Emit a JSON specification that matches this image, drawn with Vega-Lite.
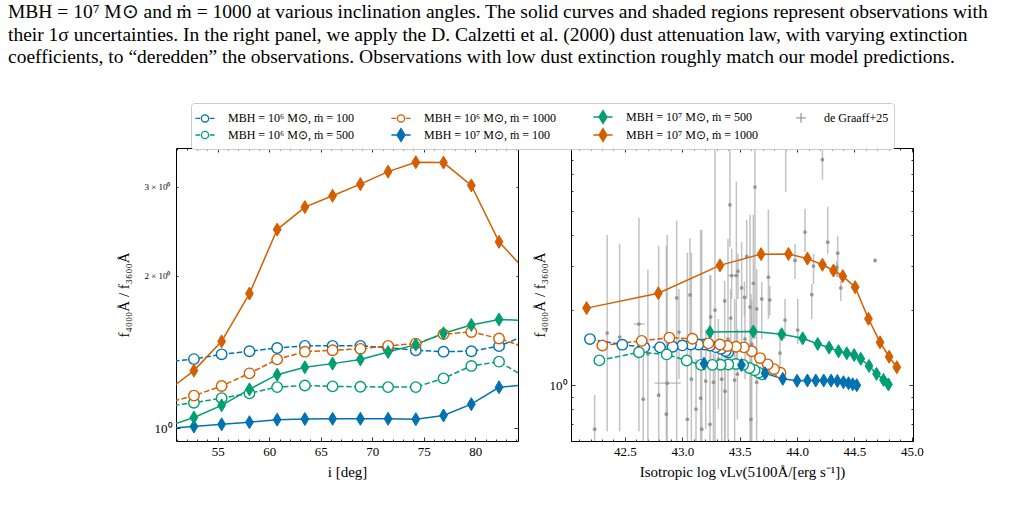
{
  "$schema": "https://vega.github.io/schema/vega-lite/v6.json",
  "padding": {"left": 8, "top": 2, "right": 4, "bottom": 4},
  "background": "white",
  "title": {
    "text": [
      "MBH = 10⁷ M⊙ and ṁ = 1000 at various inclination angles. The solid curves and shaded regions represent observations with",
      "their 1σ uncertainties. In the right panel, we apply the D. Calzetti et al. (2000) dust attenuation law, with varying extinction",
      "coefficients, to “deredden” the observations. Observations with low dust extinction roughly match our model predictions."
    ],
    "anchor": "start", "frame": "group", "dx": -168, "offset": 35,
    "font": "Liberation Serif", "fontSize": 19.5, "fontWeight": "normal", "lineHeight": 22.5, "color": "black"
  },
  "config": {
    "font": "Liberation Serif",
    "view": {"stroke": "black", "strokeWidth": 1},
    "axis": {"grid": false, "domain": false, "labelFont": "Liberation Serif", "titleFont": "Liberation Serif",
             "labelFontSize": 13, "titleFontSize": 15, "labelColor": "black", "titleColor": "black",
             "tickColor": "black", "tickWidth": 0.8, "titleFontWeight": "normal", "labelOverlap": false, "labelFlush": false}
  },
  "datasets": {
    "models": [
      {"s": "MBH = 10⁶ M⊙, ṁ = 100", "i": 50, "L": 43.4, "r": 1.352},
      {"s": "MBH = 10⁶ M⊙, ṁ = 100", "i": 52.69, "L": 43.378, "r": 1.37},
      {"s": "MBH = 10⁶ M⊙, ṁ = 100", "i": 55.38, "L": 43.337, "r": 1.4},
      {"s": "MBH = 10⁶ M⊙, ṁ = 100", "i": 58.08, "L": 43.291, "r": 1.42},
      {"s": "MBH = 10⁶ M⊙, ṁ = 100", "i": 60.77, "L": 43.241, "r": 1.441},
      {"s": "MBH = 10⁶ M⊙, ṁ = 100", "i": 63.46, "L": 43.192, "r": 1.455},
      {"s": "MBH = 10⁶ M⊙, ṁ = 100", "i": 66.15, "L": 43.14, "r": 1.455},
      {"s": "MBH = 10⁶ M⊙, ṁ = 100", "i": 68.85, "L": 43.075, "r": 1.455},
      {"s": "MBH = 10⁶ M⊙, ṁ = 100", "i": 71.54, "L": 43.0, "r": 1.443},
      {"s": "MBH = 10⁶ M⊙, ṁ = 100", "i": 74.23, "L": 42.916, "r": 1.426},
      {"s": "MBH = 10⁶ M⊙, ṁ = 100", "i": 76.92, "L": 42.805, "r": 1.417},
      {"s": "MBH = 10⁶ M⊙, ṁ = 100", "i": 79.62, "L": 42.669, "r": 1.42},
      {"s": "MBH = 10⁶ M⊙, ṁ = 100", "i": 82.31, "L": 42.477, "r": 1.453},
      {"s": "MBH = 10⁶ M⊙, ṁ = 100", "i": 85, "L": 42.195, "r": 1.53},
      {"s": "MBH = 10⁶ M⊙, ṁ = 500", "i": 50, "L": 43.695, "r": 1.105},
      {"s": "MBH = 10⁶ M⊙, ṁ = 500", "i": 52.69, "L": 43.665, "r": 1.123},
      {"s": "MBH = 10⁶ M⊙, ṁ = 500", "i": 55.38, "L": 43.63, "r": 1.147},
      {"s": "MBH = 10⁶ M⊙, ṁ = 500", "i": 58.08, "L": 43.585, "r": 1.172},
      {"s": "MBH = 10⁶ M⊙, ṁ = 500", "i": 60.77, "L": 43.53, "r": 1.206},
      {"s": "MBH = 10⁶ M⊙, ṁ = 500", "i": 63.46, "L": 43.465, "r": 1.215},
      {"s": "MBH = 10⁶ M⊙, ṁ = 500", "i": 66.15, "L": 43.401, "r": 1.21},
      {"s": "MBH = 10⁶ M⊙, ṁ = 500", "i": 68.85, "L": 43.334, "r": 1.208},
      {"s": "MBH = 10⁶ M⊙, ṁ = 500", "i": 71.54, "L": 43.262, "r": 1.206},
      {"s": "MBH = 10⁶ M⊙, ṁ = 500", "i": 74.23, "L": 43.163, "r": 1.206},
      {"s": "MBH = 10⁶ M⊙, ṁ = 500", "i": 76.92, "L": 43.038, "r": 1.255},
      {"s": "MBH = 10⁶ M⊙, ṁ = 500", "i": 79.62, "L": 42.864, "r": 1.328},
      {"s": "MBH = 10⁶ M⊙, ṁ = 500", "i": 82.31, "L": 42.622, "r": 1.354},
      {"s": "MBH = 10⁶ M⊙, ṁ = 500", "i": 85, "L": 42.277, "r": 1.257},
      {"s": "MBH = 10⁶ M⊙, ṁ = 1000", "i": 50, "L": 43.855, "r": 1.122},
      {"s": "MBH = 10⁶ M⊙, ṁ = 1000", "i": 52.69, "L": 43.799, "r": 1.16},
      {"s": "MBH = 10⁶ M⊙, ṁ = 1000", "i": 55.38, "L": 43.744, "r": 1.212},
      {"s": "MBH = 10⁶ M⊙, ṁ = 1000", "i": 58.08, "L": 43.677, "r": 1.284},
      {"s": "MBH = 10⁶ M⊙, ṁ = 1000", "i": 60.77, "L": 43.605, "r": 1.368},
      {"s": "MBH = 10⁶ M⊙, ṁ = 1000", "i": 63.46, "L": 43.537, "r": 1.417},
      {"s": "MBH = 10⁶ M⊙, ṁ = 1000", "i": 66.15, "L": 43.468, "r": 1.426},
      {"s": "MBH = 10⁶ M⊙, ṁ = 1000", "i": 68.85, "L": 43.393, "r": 1.435},
      {"s": "MBH = 10⁶ M⊙, ṁ = 1000", "i": 71.54, "L": 43.328, "r": 1.455},
      {"s": "MBH = 10⁶ M⊙, ṁ = 1000", "i": 74.23, "L": 43.227, "r": 1.47},
      {"s": "MBH = 10⁶ M⊙, ṁ = 1000", "i": 76.92, "L": 43.088, "r": 1.535},
      {"s": "MBH = 10⁶ M⊙, ṁ = 1000", "i": 79.62, "L": 42.887, "r": 1.55},
      {"s": "MBH = 10⁶ M⊙, ṁ = 1000", "i": 82.31, "L": 42.646, "r": 1.505},
      {"s": "MBH = 10⁶ M⊙, ṁ = 1000", "i": 85, "L": 42.303, "r": 1.442},
      {"s": "MBH = 10⁷ M⊙, ṁ = 100", "i": 50, "L": 44.52, "r": 1.0},
      {"s": "MBH = 10⁷ M⊙, ṁ = 100", "i": 52.69, "L": 44.485, "r": 1.008},
      {"s": "MBH = 10⁷ M⊙, ṁ = 100", "i": 55.38, "L": 44.448, "r": 1.018},
      {"s": "MBH = 10⁷ M⊙, ṁ = 100", "i": 58.08, "L": 44.404, "r": 1.028},
      {"s": "MBH = 10⁷ M⊙, ṁ = 100", "i": 60.77, "L": 44.351, "r": 1.04},
      {"s": "MBH = 10⁷ M⊙, ṁ = 100", "i": 63.46, "L": 44.296, "r": 1.043},
      {"s": "MBH = 10⁷ M⊙, ṁ = 100", "i": 66.15, "L": 44.232, "r": 1.044},
      {"s": "MBH = 10⁷ M⊙, ṁ = 100", "i": 68.85, "L": 44.163, "r": 1.044},
      {"s": "MBH = 10⁷ M⊙, ṁ = 100", "i": 71.54, "L": 44.09, "r": 1.044},
      {"s": "MBH = 10⁷ M⊙, ṁ = 100", "i": 74.23, "L": 44.0, "r": 1.042},
      {"s": "MBH = 10⁷ M⊙, ṁ = 100", "i": 76.92, "L": 43.875, "r": 1.06},
      {"s": "MBH = 10⁷ M⊙, ṁ = 100", "i": 79.62, "L": 43.721, "r": 1.116},
      {"s": "MBH = 10⁷ M⊙, ṁ = 100", "i": 82.31, "L": 43.515, "r": 1.205},
      {"s": "MBH = 10⁷ M⊙, ṁ = 100", "i": 85, "L": 43.189, "r": 1.22},
      {"s": "MBH = 10⁷ M⊙, ṁ = 500", "i": 50, "L": 44.796, "r": 1.007},
      {"s": "MBH = 10⁷ M⊙, ṁ = 500", "i": 52.69, "L": 44.753, "r": 1.05},
      {"s": "MBH = 10⁷ M⊙, ṁ = 500", "i": 55.38, "L": 44.692, "r": 1.11},
      {"s": "MBH = 10⁷ M⊙, ṁ = 500", "i": 58.08, "L": 44.627, "r": 1.194},
      {"s": "MBH = 10⁷ M⊙, ṁ = 500", "i": 60.77, "L": 44.555, "r": 1.276},
      {"s": "MBH = 10⁷ M⊙, ṁ = 500", "i": 63.46, "L": 44.497, "r": 1.32},
      {"s": "MBH = 10⁷ M⊙, ṁ = 500", "i": 66.15, "L": 44.433, "r": 1.342},
      {"s": "MBH = 10⁷ M⊙, ṁ = 500", "i": 68.85, "L": 44.361, "r": 1.368},
      {"s": "MBH = 10⁷ M⊙, ṁ = 500", "i": 71.54, "L": 44.279, "r": 1.415},
      {"s": "MBH = 10⁷ M⊙, ṁ = 500", "i": 74.23, "L": 44.18, "r": 1.463},
      {"s": "MBH = 10⁷ M⊙, ṁ = 500", "i": 76.92, "L": 44.049, "r": 1.541},
      {"s": "MBH = 10⁷ M⊙, ṁ = 500", "i": 79.62, "L": 43.866, "r": 1.6},
      {"s": "MBH = 10⁷ M⊙, ṁ = 500", "i": 82.31, "L": 43.619, "r": 1.641},
      {"s": "MBH = 10⁷ M⊙, ṁ = 500", "i": 85, "L": 43.241, "r": 1.632},
      {"s": "MBH = 10⁷ M⊙, ṁ = 1000", "i": 50, "L": 44.869, "r": 1.18},
      {"s": "MBH = 10⁷ M⊙, ṁ = 1000", "i": 52.69, "L": 44.802, "r": 1.3},
      {"s": "MBH = 10⁷ M⊙, ṁ = 1000", "i": 55.38, "L": 44.723, "r": 1.485},
      {"s": "MBH = 10⁷ M⊙, ṁ = 1000", "i": 58.08, "L": 44.622, "r": 1.846},
      {"s": "MBH = 10⁷ M⊙, ṁ = 1000", "i": 60.77, "L": 44.506, "r": 2.47},
      {"s": "MBH = 10⁷ M⊙, ṁ = 1000", "i": 63.46, "L": 44.398, "r": 2.736},
      {"s": "MBH = 10⁷ M⊙, ṁ = 1000", "i": 66.15, "L": 44.317, "r": 2.88},
      {"s": "MBH = 10⁷ M⊙, ṁ = 1000", "i": 68.85, "L": 44.221, "r": 3.037},
      {"s": "MBH = 10⁷ M⊙, ṁ = 1000", "i": 71.54, "L": 44.09, "r": 3.215},
      {"s": "MBH = 10⁷ M⊙, ṁ = 1000", "i": 74.23, "L": 43.925, "r": 3.356},
      {"s": "MBH = 10⁷ M⊙, ṁ = 1000", "i": 76.92, "L": 43.686, "r": 3.35},
      {"s": "MBH = 10⁷ M⊙, ṁ = 1000", "i": 79.62, "L": 43.328, "r": 3.02},
      {"s": "MBH = 10⁷ M⊙, ṁ = 1000", "i": 82.31, "L": 42.791, "r": 2.336},
      {"s": "MBH = 10⁷ M⊙, ṁ = 1000", "i": 85, "L": 42.166, "r": 2.036}
    ],
    "obs": [
      {"L": 42.236, "r": 0.666, "lo": 0.46, "hi": 0.912},
      {"L": 42.345, "r": 1.618, "lo": 0.654, "hi": 4.0},
      {"L": 42.454, "r": 1.559, "lo": 0.654, "hi": 3.68},
      {"L": 42.622, "r": 1.758, "lo": 0.654, "hi": 4.69, "Llo": 42.578, "Lhi": 42.672},
      {"L": 42.7, "r": 1.332, "lo": 0.58, "hi": 2.9},
      {"L": 42.659, "r": 0.879, "lo": 0.58, "hi": 1.395},
      {"L": 42.794, "r": 0.912, "lo": 0.58, "hi": 3.62},
      {"L": 42.868, "r": 1.019, "lo": 0.58, "hi": 4.0, "Llo": 42.759, "Lhi": 42.986},
      {"L": 42.951, "r": 2.236, "lo": 0.596, "hi": 4.56},
      {"L": 42.971, "r": 1.633, "lo": 1.057, "hi": 2.43},
      {"L": 43.067, "r": 2.298, "lo": 1.272, "hi": 3.89},
      {"L": 43.079, "r": 1.057, "lo": 0.58, "hi": 3.39},
      {"L": 43.119, "r": 0.801, "lo": 0.58, "hi": 1.272},
      {"L": 43.16, "r": 0.887, "lo": 0.58, "hi": 4.19},
      {"L": 43.204, "r": 1.038, "lo": 0.666, "hi": 1.677},
      {"L": 43.247, "r": 1.876, "lo": 1.16, "hi": 2.765},
      {"L": 43.285, "r": 2.0, "lo": 0.58, "hi": 14},
      {"L": 43.369, "r": 2.175, "lo": 0.58, "hi": 2.617},
      {"L": 43.398, "r": 1.53, "lo": 0.607, "hi": 3.86},
      {"L": 43.415, "r": 5.28, "lo": 3.58, "hi": 14},
      {"L": 43.43, "r": 2.748, "lo": 2.215, "hi": 3.52, "Llo": 43.398, "Lhi": 43.468},
      {"L": 43.471, "r": 2.748, "lo": 1.16, "hi": 6.54},
      {"L": 43.485, "r": 2.862, "lo": 2.215, "hi": 3.36},
      {"L": 43.517, "r": 2.453, "lo": 1.395, "hi": 3.75},
      {"L": 43.422, "r": 1.858, "lo": 1.395, "hi": 2.43},
      {"L": 43.456, "r": 1.047, "lo": 0.58, "hi": 2.215},
      {"L": 43.48, "r": 1.107, "lo": 0.73, "hi": 1.677},
      {"L": 43.314, "r": 1.272, "lo": 0.801, "hi": 1.84},
      {"L": 43.343, "r": 1.057, "lo": 0.58, "hi": 1.53},
      {"L": 43.271, "r": 1.028, "lo": 0.58, "hi": 1.332},
      {"L": 43.372, "r": 0.946, "lo": 0.58, "hi": 1.272},
      {"L": 43.546, "r": 1.53, "lo": 1.057, "hi": 2.215},
      {"L": 43.59, "r": 2.057, "lo": 0.58, "hi": 4.82},
      {"L": 43.633, "r": 6.22, "lo": 1.53, "hi": 14},
      {"L": 43.561, "r": 3.28, "lo": 2.215, "hi": 4.6},
      {"L": 43.619, "r": 2.561, "lo": 1.53, "hi": 4.82},
      {"L": 43.75, "r": 2.707, "lo": 1.84, "hi": 5.05},
      {"L": 43.901, "r": 9.6, "lo": 5.94, "hi": 20},
      {"L": 43.982, "r": 3.16, "lo": 2.666, "hi": 3.68},
      {"L": 44.069, "r": 4.105, "lo": 3.42, "hi": 5.09},
      {"L": 44.128, "r": 2.305, "lo": 1.84, "hi": 2.544},
      {"L": 44.143, "r": 3.0, "lo": 2.544, "hi": 3.36},
      {"L": 44.221, "r": 8.01, "lo": 6.66, "hi": 8.87},
      {"L": 44.267, "r": 3.74, "lo": 3.36, "hi": 5.19},
      {"L": 44.354, "r": 3.38, "lo": 2.716, "hi": 3.97},
      {"L": 44.346, "r": 2.97, "lo": 2.716, "hi": 3.14},
      {"L": 44.381, "r": 2.453, "lo": 2.175, "hi": 2.617},
      {"L": 44.68, "r": 3.16, "lo": 3.1, "hi": 3.22},
      {"L": 43.895, "r": 1.824, "lo": 1.53, "hi": 2.215},
      {"L": 43.851, "r": 1.344, "lo": 1.107, "hi": 1.677},
      {"L": 44.006, "r": 1.663, "lo": 1.46, "hi": 2.215},
      {"L": 43.648, "r": 2.02, "lo": 1.395, "hi": 2.92},
      {"L": 43.605, "r": 1.46, "lo": 0.58, "hi": 2.215},
      {"L": 43.648, "r": 1.028, "lo": 0.58, "hi": 1.272},
      {"L": 43.598, "r": 0.73, "lo": 0.46, "hi": 2.32},
      {"L": 43.044, "r": 0.73, "lo": 0.46, "hi": 3.39},
      {"L": 43.169, "r": 0.666, "lo": 0.46, "hi": 4.19},
      {"L": 42.861, "r": 0.765, "lo": 0.46, "hi": 3.62},
      {"L": 43.241, "r": 0.697, "lo": 0.46, "hi": 2.765},
      {"L": 43.692, "r": 2.215, "lo": 1.53, "hi": 2.59},
      {"L": 43.762, "r": 2.195, "lo": 1.9, "hi": 2.5},
      {"L": 43.541, "r": 2.248, "lo": 1.9, "hi": 2.6}
    ]
  },
  "spacing": 1,
  "resolve": {"scale": {"x": "independent", "y": "independent", "stroke": "shared", "fill": "shared", "shape": "shared"}},
  "hconcat": [
    {
      "width": 342, "height": 293,
      "resolve": {"axis": {"x": "independent", "y": "independent"}},
      "layer": [
        {
          "data": {"name": "models"},
          "transform": [{"filter": {"field": "s", "oneOf": ["MBH = 10⁶ M⊙, ṁ = 100", "MBH = 10⁶ M⊙, ṁ = 500", "MBH = 10⁶ M⊙, ṁ = 1000"]}}],
          "mark": {"type": "line", "strokeWidth": 1.5, "strokeDash": [5.5, 2.4], "clip": true},
          "encoding": {
            "x": {"field": "i", "type": "quantitative", "scale": {"domain": [50.95, 84.15], "nice": false, "zero": false},
                  "axis": {"orient": "bottom", "title": "i [deg]", "values": [51,52,53,54,55,56,57,58,59,60,61,62,63,64,65,66,67,68,69,70,71,72,73,74,75,76,77,78,79,80,81,82,83,84],
                           "labelExpr": "datum.value % 5 === 0 ? datum.label : ''", "format": "d",
                           "tickSize": {"condition": {"test": "datum.value % 5 === 0", "value": -4}, "value": -2},
                           "labelPadding": 8, "titlePadding": 4}},
            "y": {"field": "r", "type": "quantitative", "scale": {"type": "log", "domain": [0.9437, 3.58], "nice": false},
                  "axis": {"orient": "left", "title": "f₄₀₀₀Å / f₃₆₀₀Å", "values": [1, 2, 3],
                           "labelExpr": "datum.value === 1 ? '10⁰' : datum.value + ' × 10⁰'",
                           "labelFontSize": {"condition": {"test": "datum.value === 1", "value": 13}, "value": 9},
                           "tickSize": {"condition": {"test": "datum.value === 1", "value": -4}, "value": -2},
                           "labelPadding": 8, "titlePadding": 12}},
            "stroke": {"field": "s", "type": "nominal",
                       "scale": {"domain": ["MBH = 10⁶ M⊙, ṁ = 100", "MBH = 10⁶ M⊙, ṁ = 1000", "MBH = 10⁷ M⊙, ṁ = 500", "de Graaff+25", "MBH = 10⁶ M⊙, ṁ = 500", "MBH = 10⁷ M⊙, ṁ = 100", "MBH = 10⁷ M⊙, ṁ = 1000"],
                                 "range": ["#0072B2", "#D55E00", "#009E73", "#999999", "#009E73", "#0072B2", "#D55E00"]},
                       "legend": {"orient": "none", "legendX": 15, "legendY": -45, "columns": 4, "title": null, "direction": "horizontal",
                                  "labelFont": "Liberation Serif", "labelFontSize": 12, "labelLimit": 300, "labelColor": "black",
                                  "symbolSize": 256, "symbolStrokeWidth": 1.3, "symbolOpacity": 1, "labelOffset": 14, "columnPadding": 33, "rowPadding": 0,
                                  "strokeColor": "#cccccc", "fillColor": "white", "padding": 5, "cornerRadius": 3}}
          }
        },
        {
          "data": {"name": "models"},
          "transform": [{"filter": {"field": "s", "oneOf": ["MBH = 10⁷ M⊙, ṁ = 100", "MBH = 10⁷ M⊙, ṁ = 500", "MBH = 10⁷ M⊙, ṁ = 1000"]}}],
          "mark": {"type": "line", "strokeWidth": 1.5, "clip": true},
          "encoding": {
            "x": {"field": "i", "type": "quantitative", "scale": {"domain": [50.95, 84.15], "nice": false, "zero": false}, "axis": null},
            "y": {"field": "r", "type": "quantitative", "scale": {"type": "log", "domain": [0.9437, 3.58], "nice": false}, "axis": null},
            "stroke": {"field": "s", "type": "nominal"}
          }
        },
        {
          "data": {"name": "models"},
          "transform": [{"filter": {"field": "s", "oneOf": ["MBH = 10⁶ M⊙, ṁ = 100", "MBH = 10⁶ M⊙, ṁ = 500", "MBH = 10⁶ M⊙, ṁ = 1000"]}}],
          "mark": {"type": "point", "shape": "circle", "size": 110, "strokeWidth": 1.4, "opacity": 1, "clip": true},
          "encoding": {
            "x": {"field": "i", "type": "quantitative", "scale": {"domain": [50.95, 84.15], "nice": false, "zero": false}, "axis": null},
            "y": {"field": "r", "type": "quantitative", "scale": {"type": "log", "domain": [0.9437, 3.58], "nice": false}, "axis": null},
            "stroke": {"field": "s", "type": "nominal"},
            "fill": {"field": "s", "type": "nominal", "legend": null,
                     "scale": {"domain": ["MBH = 10⁶ M⊙, ṁ = 100", "MBH = 10⁶ M⊙, ṁ = 1000", "MBH = 10⁷ M⊙, ṁ = 500", "de Graaff+25", "MBH = 10⁶ M⊙, ṁ = 500", "MBH = 10⁷ M⊙, ṁ = 100", "MBH = 10⁷ M⊙, ṁ = 1000"],
                               "range": ["white", "white", "#009E73", "transparent", "white", "#0072B2", "#D55E00"]}}
          }
        },
        {
          "data": {"name": "models"},
          "transform": [{"filter": {"field": "s", "oneOf": ["MBH = 10⁷ M⊙, ṁ = 100", "MBH = 10⁷ M⊙, ṁ = 500", "MBH = 10⁷ M⊙, ṁ = 1000"]}}],
          "mark": {"type": "point", "shape": "M0,-1L0.6,0L0,1L-0.6,0Z", "size": 169, "strokeWidth": 1, "opacity": 1, "clip": true},
          "encoding": {
            "x": {"field": "i", "type": "quantitative", "scale": {"domain": [50.95, 84.15], "nice": false, "zero": false}, "axis": null},
            "y": {"field": "r", "type": "quantitative", "scale": {"type": "log", "domain": [0.9437, 3.58], "nice": false}, "axis": null},
            "stroke": {"field": "s", "type": "nominal"},
            "fill": {"field": "s", "type": "nominal", "legend": null}
          }
        },
        {
          "data": {"name": "models"},
          "mark": {"type": "point", "opacity": 0},
          "encoding": {
            "x": {"field": "i", "type": "quantitative", "scale": {"domain": [50.95, 84.15], "nice": false, "zero": false},
                  "axis": {"orient": "top", "labels": false, "title": null, "values": [51,52,53,54,55,56,57,58,59,60,61,62,63,64,65,66,67,68,69,70,71,72,73,74,75,76,77,78,79,80,81,82,83,84],
                           "tickSize": {"condition": {"test": "datum.value % 5 === 0", "value": -4}, "value": -2}}},
            "y": {"field": "r", "type": "quantitative", "scale": {"type": "log", "domain": [0.9437, 3.58], "nice": false},
                  "axis": {"orient": "right", "labels": false, "title": null, "values": [1, 2, 3],
                           "tickSize": {"condition": {"test": "datum.value === 1", "value": -4}, "value": -2}}}
          }
        },
        {
          "data": {"name": "models"},
          "mark": {"type": "point", "size": 256, "strokeWidth": 1.3, "opacity": 0, "clip": true},
          "encoding": {
            "x": {"field": "i", "type": "quantitative", "scale": {"domain": [50.95, 84.15], "nice": false, "zero": false}, "axis": null},
            "y": {"field": "r", "type": "quantitative", "scale": {"type": "log", "domain": [0.9437, 3.58], "nice": false}, "axis": null},
            "stroke": {"field": "s", "type": "nominal"},
            "fill": {"field": "s", "type": "nominal", "legend": null},
            "shape": {"field": "s", "type": "nominal", "legend": null,
                      "scale": {"domain": ["MBH = 10⁶ M⊙, ṁ = 100", "MBH = 10⁶ M⊙, ṁ = 1000", "MBH = 10⁷ M⊙, ṁ = 500", "de Graaff+25", "MBH = 10⁶ M⊙, ṁ = 500", "MBH = 10⁷ M⊙, ṁ = 100", "MBH = 10⁷ M⊙, ṁ = 1000"],
                                "range": ["M-1.2,0H-0.6M0.6,0H1.2M-0.45,0A0.45,0.45,0,1,1,0.45,0A0.45,0.45,0,1,1,-0.45,0Z",
                                          "M-1.2,0H-0.6M0.6,0H1.2M-0.45,0A0.45,0.45,0,1,1,0.45,0A0.45,0.45,0,1,1,-0.45,0Z",
                                          "M-1.2,0H1.2M0,-0.8L0.5,0L0,0.8L-0.5,0Z",
                                          "M-0.6,0H0.6M0,-0.6V0.6",
                                          "M-1.2,0H-0.6M0.6,0H1.2M-0.45,0A0.45,0.45,0,1,1,0.45,0A0.45,0.45,0,1,1,-0.45,0Z",
                                          "M-1.2,0H1.2M0,-0.8L0.5,0L0,0.8L-0.5,0Z",
                                          "M-1.2,0H1.2M0,-0.8L0.5,0L0,0.8L-0.5,0Z"]}}
          }
        }
      ]
    },
    {
      "width": 342, "height": 293,
      "resolve": {"axis": {"x": "independent", "y": "independent"}},
      "layer": [
        {
          "data": {"name": "obs"},
          "mark": {"type": "rule", "color": "#b3b3b3", "strokeWidth": 1.5, "opacity": 0.8, "clip": true},
          "encoding": {
            "x": {"field": "L", "type": "quantitative", "scale": {"domain": [42.03, 45.01], "nice": false, "zero": false},
                  "axis": {"orient": "bottom", "title": "Isotropic log νLν(5100Å/[erg s⁻¹])",
                           "values": [42.1,42.2,42.3,42.4,42.5,42.6,42.7,42.8,42.9,43.0,43.1,43.2,43.3,43.4,43.5,43.6,43.7,43.8,43.9,44.0,44.1,44.2,44.3,44.4,44.5,44.6,44.7,44.8,44.9,45.0],
                           "labelExpr": "abs(datum.value * 2 - round(datum.value * 2)) < 0.001 ? format(datum.value, '.1f') : ''",
                           "tickSize": {"condition": {"test": "abs(datum.value * 2 - round(datum.value * 2)) < 0.001", "value": -4}, "value": -2},
                           "labelPadding": 8, "titlePadding": 4}},
            "y": {"field": "lo", "type": "quantitative", "scale": {"type": "log", "domain": [0.5974, 8.92], "nice": false},
                  "axis": {"orient": "left", "title": "f₄₀₀₀Å / f₃₆₀₀Å", "values": [0.6, 0.7, 0.8, 0.9, 1, 2, 3, 4, 5, 6, 7, 8],
                           "labelExpr": "datum.value === 1 ? '10⁰' : ''",
                           "tickSize": {"condition": {"test": "datum.value === 1", "value": -4}, "value": -2},
                           "labelPadding": 8, "titlePadding": 2}},
            "y2": {"field": "hi"}
          }
        },
        {
          "data": {"name": "obs"},
          "transform": [{"filter": {"field": "Llo", "valid": true}}],
          "mark": {"type": "rule", "color": "#b3b3b3", "strokeWidth": 1.5, "opacity": 0.8, "clip": true},
          "encoding": {
            "x": {"field": "Llo", "type": "quantitative", "scale": {"domain": [42.03, 45.01], "nice": false, "zero": false}, "axis": null},
            "x2": {"field": "Lhi"},
            "y": {"field": "r", "type": "quantitative", "scale": {"type": "log", "domain": [0.5974, 8.92], "nice": false}, "axis": null}
          }
        },
        {
          "data": {"name": "obs"},
          "mark": {"type": "point", "filled": true, "color": "#8a8a8a", "size": 14, "opacity": 0.85, "clip": true},
          "encoding": {
            "x": {"field": "L", "type": "quantitative", "scale": {"domain": [42.03, 45.01], "nice": false, "zero": false}, "axis": null},
            "y": {"field": "r", "type": "quantitative", "scale": {"type": "log", "domain": [0.5974, 8.92], "nice": false}, "axis": null}
          }
        },
        {
          "data": {"name": "models"},
          "transform": [{"filter": {"field": "s", "oneOf": ["MBH = 10⁶ M⊙, ṁ = 100", "MBH = 10⁶ M⊙, ṁ = 500", "MBH = 10⁶ M⊙, ṁ = 1000"]}}],
          "mark": {"type": "line", "strokeWidth": 1.5, "strokeDash": [5.5, 2.4], "clip": true},
          "encoding": {
            "x": {"field": "L", "type": "quantitative", "scale": {"domain": [42.03, 45.01], "nice": false, "zero": false}, "axis": null},
            "y": {"field": "r", "type": "quantitative", "scale": {"type": "log", "domain": [0.5974, 8.92], "nice": false}, "axis": null},
            "stroke": {"field": "s", "type": "nominal"}
          }
        },
        {
          "data": {"name": "models"},
          "transform": [{"filter": {"field": "s", "oneOf": ["MBH = 10⁷ M⊙, ṁ = 100", "MBH = 10⁷ M⊙, ṁ = 500", "MBH = 10⁷ M⊙, ṁ = 1000"]}}],
          "mark": {"type": "line", "strokeWidth": 1.5, "clip": true},
          "encoding": {
            "x": {"field": "L", "type": "quantitative", "scale": {"domain": [42.03, 45.01], "nice": false, "zero": false}, "axis": null},
            "y": {"field": "r", "type": "quantitative", "scale": {"type": "log", "domain": [0.5974, 8.92], "nice": false}, "axis": null},
            "stroke": {"field": "s", "type": "nominal"}
          }
        },
        {
          "data": {"name": "models"},
          "transform": [{"filter": {"field": "s", "oneOf": ["MBH = 10⁶ M⊙, ṁ = 100", "MBH = 10⁶ M⊙, ṁ = 500", "MBH = 10⁶ M⊙, ṁ = 1000"]}}],
          "mark": {"type": "point", "shape": "circle", "size": 110, "strokeWidth": 1.4, "opacity": 1, "clip": true},
          "encoding": {
            "x": {"field": "L", "type": "quantitative", "scale": {"domain": [42.03, 45.01], "nice": false, "zero": false}, "axis": null},
            "y": {"field": "r", "type": "quantitative", "scale": {"type": "log", "domain": [0.5974, 8.92], "nice": false}, "axis": null},
            "stroke": {"field": "s", "type": "nominal"},
            "fill": {"field": "s", "type": "nominal", "legend": null}
          }
        },
        {
          "data": {"name": "models"},
          "transform": [{"filter": {"field": "s", "oneOf": ["MBH = 10⁷ M⊙, ṁ = 100", "MBH = 10⁷ M⊙, ṁ = 500", "MBH = 10⁷ M⊙, ṁ = 1000"]}}],
          "mark": {"type": "point", "shape": "M0,-1L0.6,0L0,1L-0.6,0Z", "size": 169, "strokeWidth": 1, "opacity": 1, "clip": true},
          "encoding": {
            "x": {"field": "L", "type": "quantitative", "scale": {"domain": [42.03, 45.01], "nice": false, "zero": false}, "axis": null},
            "y": {"field": "r", "type": "quantitative", "scale": {"type": "log", "domain": [0.5974, 8.92], "nice": false}, "axis": null},
            "stroke": {"field": "s", "type": "nominal"},
            "fill": {"field": "s", "type": "nominal", "legend": null}
          }
        },
        {
          "data": {"name": "models"},
          "mark": {"type": "point", "opacity": 0},
          "encoding": {
            "x": {"field": "L", "type": "quantitative", "scale": {"domain": [42.03, 45.01], "nice": false, "zero": false},
                  "axis": {"orient": "top", "labels": false, "title": null,
                           "values": [42.1,42.2,42.3,42.4,42.5,42.6,42.7,42.8,42.9,43.0,43.1,43.2,43.3,43.4,43.5,43.6,43.7,43.8,43.9,44.0,44.1,44.2,44.3,44.4,44.5,44.6,44.7,44.8,44.9,45.0],
                           "tickSize": {"condition": {"test": "abs(datum.value * 2 - round(datum.value * 2)) < 0.001", "value": -4}, "value": -2}}},
            "y": {"field": "r", "type": "quantitative", "scale": {"type": "log", "domain": [0.5974, 8.92], "nice": false},
                  "axis": {"orient": "right", "labels": false, "title": null, "values": [0.6, 0.7, 0.8, 0.9, 1, 2, 3, 4, 5, 6, 7, 8],
                           "tickSize": {"condition": {"test": "datum.value === 1", "value": -4}, "value": -2}}}
          }
        }
      ]
    }
  ]
}
